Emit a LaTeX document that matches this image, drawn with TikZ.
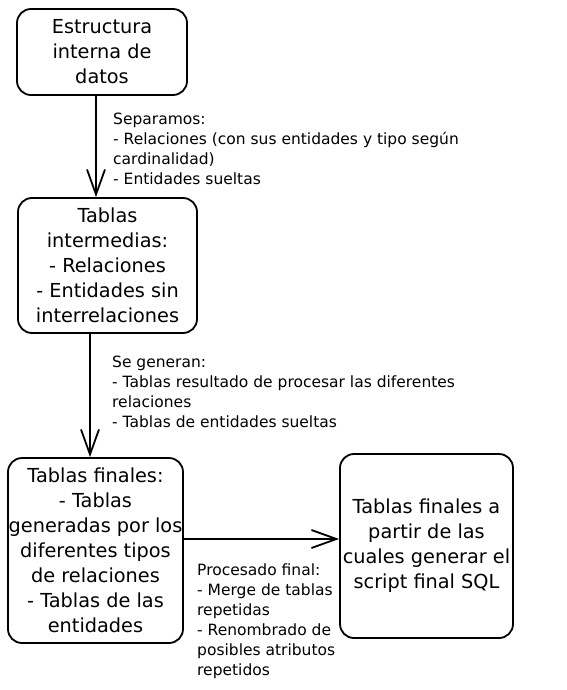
\documentclass[tikz,border=0pt]{standalone}
\usepackage{fontspec}
\setmainfont{DejaVu Sans}
\usetikzlibrary{arrows.meta}

\begin{document}
\begin{tikzpicture}[x=1pt,y=-1pt]
\tikzstyle{every node}+=[inner sep=0pt]
\tikzstyle{caja}=[draw=black, line width=1.8pt, rounded corners=14pt, align=center, font=\fontsize{19.3}{25}\selectfont]
\tikzstyle{nota}=[anchor=north west, align=left, font=\fontsize{15.5}{20}\selectfont]
\tikzstyle{flecha}=[draw=black, line width=1.8pt, -{Straight Barb[length=25pt,width=18pt]}]
\useasboundingbox (0,0) rectangle (566,690);
\node [caja, minimum width=170pt, minimum height=86pt] (estructura) at (102,52) {Estructura\\interna de\\datos};
\node [caja, minimum width=179pt, minimum height=135pt] (intermedias) at (107.5,265.5) {Tablas\\intermedias:\\- Relaciones\\- Entidades sin\\interrelaciones};
\node [caja, minimum width=175pt, minimum height=185pt] (finales) at (95.5,550.5) {Tablas finales:\\- Tablas\\generadas por los\\diferentes tipos\\de relaciones\\- Tablas de las\\entidades};
\node [caja, minimum width=173pt, minimum height=184pt] (sql) at (426.5,546) {Tablas finales a\\partir de las\\cuales generar el\\script final SQL};
\draw [flecha] ([xshift=-6pt]estructura.south) -- ([xshift=-6pt]estructura.south |- intermedias.north);
\draw [flecha] ([xshift=-17.5pt]intermedias.south) -- ([xshift=-17.5pt]intermedias.south |- finales.north);
\draw [flecha] ([yshift=11.5pt]finales.east) -- ([yshift=11.5pt]finales.east -| sql.west);
\node [nota] (separamos) at (113,113) {Separamos:\\- Relaciones (con sus entidades y tipo según\\cardinalidad)\\- Entidades sueltas};
\node [nota] (generan) at (112,356) {Se generan:\\- Tablas resultado de procesar las diferentes\\relaciones\\- Tablas de entidades sueltas};
\node [nota] (procesado) at (197,564) {Procesado final:\\- Merge de tablas\\repetidas\\- Renombrado de\\posibles atributos\\repetidos};
\end{tikzpicture}
\end{document}
